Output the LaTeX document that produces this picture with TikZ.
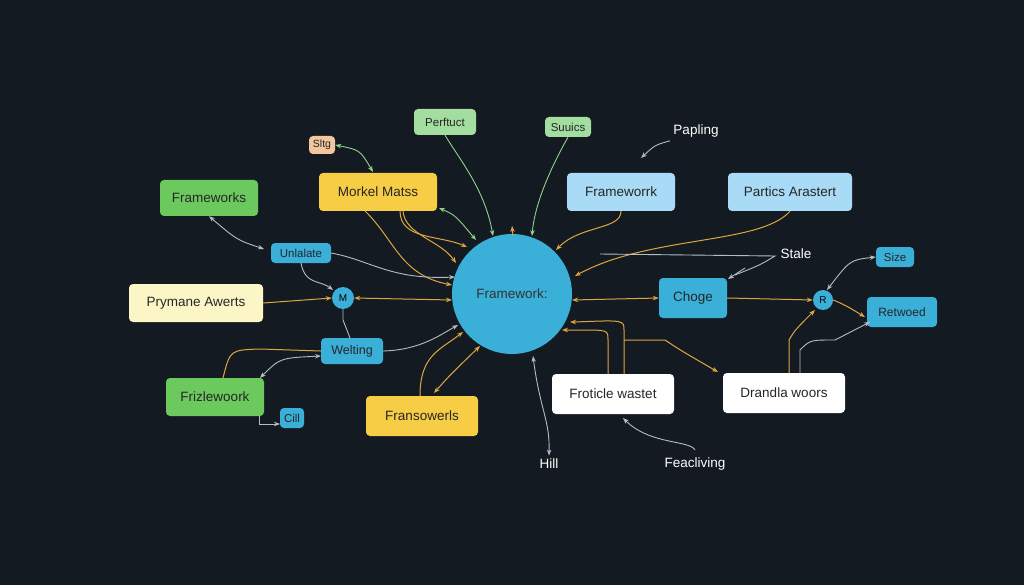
\documentclass[tikz,border=0pt]{standalone}
\usepackage{fontspec}
\setmainfont{Liberation Sans}
\usetikzlibrary{arrows.meta}
\definecolor{bg}{HTML}{141A22}
\definecolor{ylw}{HTML}{F6CD45}
\definecolor{grn}{HTML}{6CC95E}
\definecolor{lgrn}{HTML}{A3DDA0}
\definecolor{lblu}{HTML}{A9DBF6}
\definecolor{blu}{HTML}{3AAFD8}
\definecolor{lylw}{HTML}{FCF6C6}
\definecolor{pch}{HTML}{F3C6A0}
\definecolor{eo}{HTML}{DDA640}
\definecolor{eg}{HTML}{B4BCC6}
\definecolor{egr}{HTML}{8ED489}
\begin{document}
\begin{tikzpicture}[x=1pt,y=-1pt,
 box/.style={rounded corners=4pt,inner sep=0pt,font=\fontsize{13.5}{15}\selectfont,text=black!85},
 lbl/.style={font=\fontsize{13.5}{15}\selectfont,text=white!90},
 o/.style={eo,line width=1pt,-{Stealth[length=6pt]}},
 ob/.style={eo,line width=1pt,{Stealth[length=6pt]}-{Stealth[length=6pt]}},
 g/.style={eg,line width=0.9pt,-{Stealth[length=6pt]}},
 gb/.style={eg,line width=0.9pt,{Stealth[length=6pt]}-{Stealth[length=6pt]}},
 gr/.style={egr,line width=0.9pt,-{Stealth[length=6pt]}},
 grb/.style={egr,line width=0.9pt,{Stealth[length=6pt]}-{Stealth[length=6pt]}}]
\fill[bg] (0,0) rectangle (1024,585);
\useasboundingbox (0,0) rectangle (1024,585);
% nodes
\node[box,fill=pch,minimum width=26pt,minimum height=18pt,font=\fontsize{10.5}{12}\selectfont] (sltg) at (322,145) {Sltg};
\node[box,fill=lgrn,minimum width=62pt,minimum height=26pt,font=\fontsize{11.5}{13}\selectfont] (perf) at (445,122) {Perftuct};
\node[box,fill=lgrn,minimum width=46pt,minimum height=20pt,font=\fontsize{11.5}{13}\selectfont] (suu) at (568,127) {Suuics};
\node[lbl] (pap) at (696,131) {Papling};
\node[box,fill=grn,minimum width=98pt,minimum height=36pt] (fw1) at (209,198) {Frameworks};
\node[box,fill=ylw,minimum width=118pt,minimum height=38pt] (mork) at (378,192) {Morkel Matss};
\node[box,fill=lblu,minimum width=108pt,minimum height=38pt] (fw2) at (621,192) {Frameworrk};
\node[box,fill=lblu,minimum width=124pt,minimum height=38pt] (part) at (790,192) {Partics Arastert};
\node[box,fill=blu,minimum width=60pt,minimum height=20pt,font=\fontsize{11.5}{13}\selectfont] (unl) at (301,253) {Unlalate};
\node[lbl] (stale) at (796,254) {Stale};
\node[box,fill=blu,minimum width=38pt,minimum height=20pt,font=\fontsize{11.5}{13}\selectfont] (size) at (895,257) {Size};
\node[box,fill=lylw,minimum width=134pt,minimum height=38pt] (pry) at (196,303) {Prymane Awerts};
\node[circle,fill=blu,minimum size=22pt,inner sep=0pt,font=\fontsize{10}{12}\selectfont] (m) at (343,298) {M};
\node[circle,fill=blu,minimum size=120pt,inner sep=0pt,font=\fontsize{13.5}{15}\selectfont,text=black!80] (c) at (512,294) {Framework:};
\node[box,fill=blu,minimum width=68pt,minimum height=40pt] (chg) at (693,298) {Choge};
\node[circle,fill=blu,minimum size=20pt,inner sep=0pt,font=\fontsize{10}{12}\selectfont] (r) at (823,300) {R};
\node[box,fill=blu,minimum width=70pt,minimum height=30pt,font=\fontsize{12}{14}\selectfont] (ret) at (902,312) {Retwoed};
\node[box,fill=blu,minimum width=62pt,minimum height=26pt,font=\fontsize{12.5}{14}\selectfont] (wel) at (352,351) {Welting};
\node[box,fill=grn,minimum width=98pt,minimum height=38pt] (friz) at (215,397) {Frizlewoork};
\node[box,fill=blu,minimum width=24pt,minimum height=20pt,font=\fontsize{11.5}{13}\selectfont] (cill) at (292,418) {Cill};
\node[box,fill=ylw,minimum width=112pt,minimum height=40pt] (fran) at (422,416) {Fransowerls};
\node[box,fill=white,minimum width=122pt,minimum height=40pt] (frot) at (613,394) {Froticle wastet};
\node[box,fill=white,minimum width=122pt,minimum height=40pt] (dran) at (784,393) {Drandla woors};
\node[lbl] (hill) at (549,464) {Hill};
\node[lbl] (feac) at (695,464) {Feacliving};
% connectors
\draw[grb] (sltg.east) .. controls (360,150) .. (373,172);
\draw[gr] (perf.south) .. controls (460,160) and (485,190) .. (493,236);
\draw[gr] (suu.south) .. controls (555,160) and (535,200) .. (532,236);
\draw[o] (513,236) -- (512,226);
\draw[g] (pap.south west) .. controls (655,145) .. (641,158);
\draw[gb] (fw1.south) .. controls (237,240) .. (264,249);
\draw[grb] (439,208) .. controls (455,215) .. (476,240);
\draw[o] (400,211) .. controls (400,240) and (440,235) .. (467,247);
\draw[o] (403,211) .. controls (405,235) and (440,240) .. (456,263);
\draw[o] (365,211) .. controls (395,240) and (400,275) .. (452,285);
\draw[g] (331,253) .. controls (370,260) and (390,280) .. (455,277);
\draw[g] (301,263) .. controls (305,285) and (320,280) .. (333,290);
\draw[o] (fw2.south) .. controls (621,230) and (580,225) .. (556,250);
\draw[o] (part.south) .. controls (760,245) and (650,235) .. (575,276);
\draw[eg,line width=0.9pt] (600,254) -- (775,256) .. controls (760,265) .. (735,275);
\draw[g] (745,268) -- (728,279);
\draw[o] (pry.east) -- (m.west);
\draw[ob] (m.east) -- (452,300);
\draw[ob] (572,300) -- (chg.west);
\draw[o] (chg.east) -- (r.west);
\draw[gb] (size.west) .. controls (850,260) .. (827,290);
\draw[o] (r.east) .. controls (845,305) .. (865,317);
\draw[eg,line width=0.9pt] (m.south) -- (343,320) -- (350,338);
\draw[g] (wel.east) .. controls (420,350) and (440,335) .. (458,325);
\draw[eo,line width=1pt] (wel.west) -- (260,349) .. controls (230,350) .. (223,378);
\draw[gb] (321,356) .. controls (280,358) .. (260,378);
\draw[g] (259,416) -- (259,424) -- (280,424);
\draw[o] (420,396) .. controls (420,355) and (440,350) .. (463,332);
\draw[ob] (434,393) .. controls (450,375) .. (480,346);
\draw[gb] (hill.north) .. controls (550,420) and (540,410) .. (533,356);
\draw[o] (608,374) -- (608,340) .. controls (608,330) .. (580,330) -- (562,330);
\draw[o] (624,374) -- (624,330) .. controls (624,320) .. (575,322) -- (570,322);
\draw[o] (624,340) -- (665,340) .. controls (680,350) .. (718,372);
\draw[o] (789,373) -- (789,340) .. controls (795,330) .. (815,310);
\draw[g] (800,373) -- (800,350) .. controls (810,340) .. (835,340) -- (870,322);
\draw[g] (695,450) .. controls (690,440) and (650,445) .. (623,418);
\end{tikzpicture}
\end{document}
